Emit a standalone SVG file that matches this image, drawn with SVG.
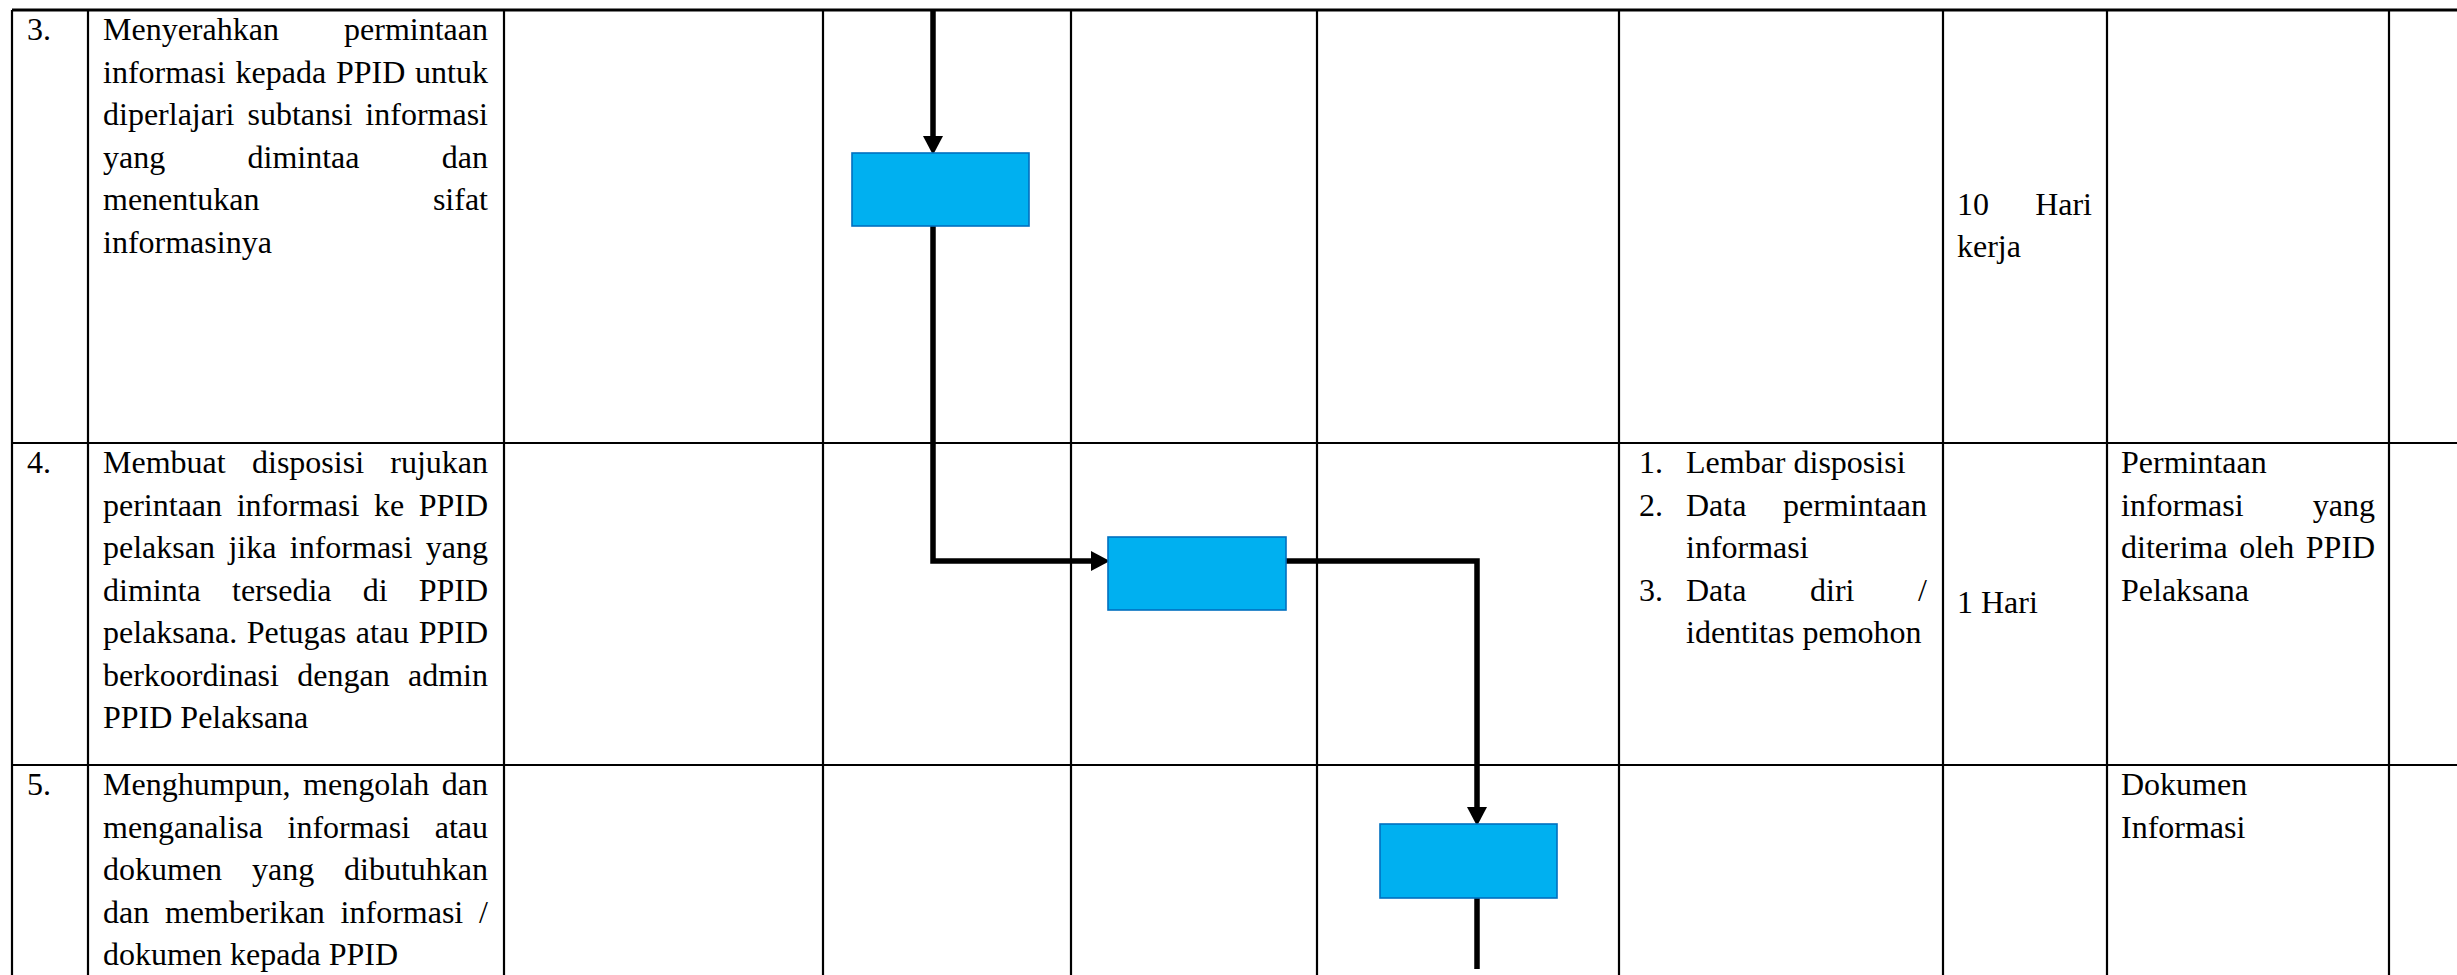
<svg xmlns="http://www.w3.org/2000/svg" width="2457" height="975" viewBox="0 0 2457 975">
<style>
.g{stroke:#000;stroke-width:2.2;fill:none}
.t{font-family:"Liberation Serif","Times New Roman",serif;font-size:32px;fill:#000}
.e{text-anchor:end}
.m{text-anchor:start}
.box{fill:#00B0F0;stroke:#0070C0;stroke-width:1.6}
.c{stroke:#000;stroke-width:5.5;fill:none;stroke-linejoin:miter}
</style>
<defs>
<marker id="ah" markerUnits="userSpaceOnUse" markerWidth="20" markerHeight="20" viewBox="0 -9 17 18" refX="0" refY="0" orient="auto">
<path d="M0,-9 L17,0 L0,9 Z" fill="#000"/>
</marker>
</defs>
<rect width="2457" height="975" fill="#fff"/>
<g id="grid">
<line class="g" x1="12" y1="10" x2="2457" y2="10" style="stroke-width:3"/>
<line class="g" x1="12" y1="443" x2="2457" y2="443"/>
<line class="g" x1="12" y1="765" x2="2457" y2="765"/>
<line class="g" x1="12" y1="10" x2="12" y2="975"/>
<line class="g" x1="88" y1="10" x2="88" y2="975"/>
<line class="g" x1="504" y1="10" x2="504" y2="975"/>
<line class="g" x1="823" y1="10" x2="823" y2="975"/>
<line class="g" x1="1071" y1="10" x2="1071" y2="975"/>
<line class="g" x1="1317" y1="10" x2="1317" y2="975"/>
<line class="g" x1="1619" y1="10" x2="1619" y2="975"/>
<line class="g" x1="1943" y1="10" x2="1943" y2="975"/>
<line class="g" x1="2107" y1="10" x2="2107" y2="975"/>
<line class="g" x1="2389" y1="10" x2="2389" y2="975"/>
</g>
<g id="texts" class="t">
<text x="27" y="40">3.</text>
<text x="27" y="473">4.</text>
<text x="27" y="795">5.</text>
<!-- row 3 -->
<text x="103" y="40">Menyerahkan</text><text class="e" x="488" y="40">permintaan</text>
<text x="103" y="82.5">informasi</text><text x="235.5" y="82.5">kepada</text><text x="336" y="82.5">PPID</text><text class="e" x="488" y="82.5">untuk</text>
<text x="103" y="125">diperlajari</text><text x="247.5" y="125">subtansi</text><text class="e" x="488" y="125">informasi</text>
<text x="103" y="167.5">yang</text><text x="247.5" y="167.5">dimintaa</text><text class="e" x="488" y="167.5">dan</text>
<text x="103" y="210">menentukan</text><text class="e" x="488" y="210">sifat</text>
<text x="103" y="252.5">informasinya</text>
<!-- row 4 -->
<text x="103" y="473">Membuat</text><text x="252" y="473">disposisi</text><text class="e" x="488" y="473">rujukan</text>
<text x="103" y="515.5">perintaan</text><text x="236.7" y="515.5">informasi</text><text x="374" y="515.5">ke</text><text class="e" x="488" y="515.5">PPID</text>
<text x="103" y="558">pelaksan</text><text x="228.4" y="558">jika</text><text x="289.8" y="558">informasi</text><text class="e" x="488" y="558">yang</text>
<text x="103" y="600.5">diminta</text><text x="232" y="600.5">tersedia</text><text x="362.7" y="600.5">di</text><text class="e" x="488" y="600.5">PPID</text>
<text x="103" y="643">pelaksana.</text><text x="246.7" y="643">Petugas</text><text x="355.8" y="643">atau</text><text class="e" x="488" y="643">PPID</text>
<text x="103" y="685.5">berkoordinasi</text><text x="297.3" y="685.5">dengan</text><text class="e" x="488" y="685.5">admin</text>
<text x="103" y="728">PPID Pelaksana</text>
<!-- row 5 -->
<text x="103" y="795">Menghumpun,</text><text x="303.1" y="795">mengolah</text><text class="e" x="488" y="795">dan</text>
<text x="103" y="837.5">menganalisa</text><text x="287.5" y="837.5">informasi</text><text class="e" x="488" y="837.5">atau</text>
<text x="103" y="880">dokumen</text><text x="252" y="880">yang</text><text class="e" x="488" y="880">dibutuhkan</text>
<text x="103" y="922.5">dan</text><text x="164.9" y="922.5">memberikan</text><text x="340.6" y="922.5">informasi</text><text class="e" x="488" y="922.5">/</text>
<text x="103" y="965">dokumen kepada PPID</text>
<!-- kelengkapan -->
<text x="1639" y="473">1.</text><text x="1686" y="473">Lembar disposisi</text>
<text x="1639" y="515.5">2.</text><text x="1686" y="515.5">Data</text><text class="e" x="1927" y="515.5">permintaan</text>
<text x="1686" y="558">informasi</text>
<text x="1639" y="600.5">3.</text><text x="1686" y="600.5">Data</text><text x="1810" y="600.5">diri</text><text class="e" x="1927" y="600.5">/</text>
<text x="1686" y="643">identitas pemohon</text>
<!-- waktu -->
<text x="1957" y="214.5">10</text><text class="e" x="2092" y="214.5">Hari</text>
<text x="1957" y="257">kerja</text>
<text x="1957" y="613">1 Hari</text>
<!-- output -->
<text x="2121" y="473">Permintaan</text>
<text x="2121" y="515.5">informasi</text><text class="e" x="2375" y="515.5">yang</text>
<text x="2121" y="558">diterima</text><text x="2239.2" y="558">oleh</text><text class="e" x="2375" y="558">PPID</text>
<text x="2121" y="600.5">Pelaksana</text>
<text x="2121" y="795">Dokumen</text>
<text x="2121" y="837.5">Informasi</text>
</g>
<g id="connectors">
<path class="c" d="M933,10 V136" marker-end="url(#ah)"/>
<path class="c" d="M933,226 V561 H1091" marker-end="url(#ah)"/>
<path class="c" d="M1286,561 H1477 V807" marker-end="url(#ah)"/>
<path class="c" d="M1477,898 V969"/>
</g>
<g id="node1"><rect class="box" x="852" y="153" width="177" height="73"/></g>
<g id="node2"><rect class="box" x="1108" y="537" width="178" height="73"/></g>
<g id="node3"><rect class="box" x="1380" y="824" width="177" height="74"/></g>
</svg>
